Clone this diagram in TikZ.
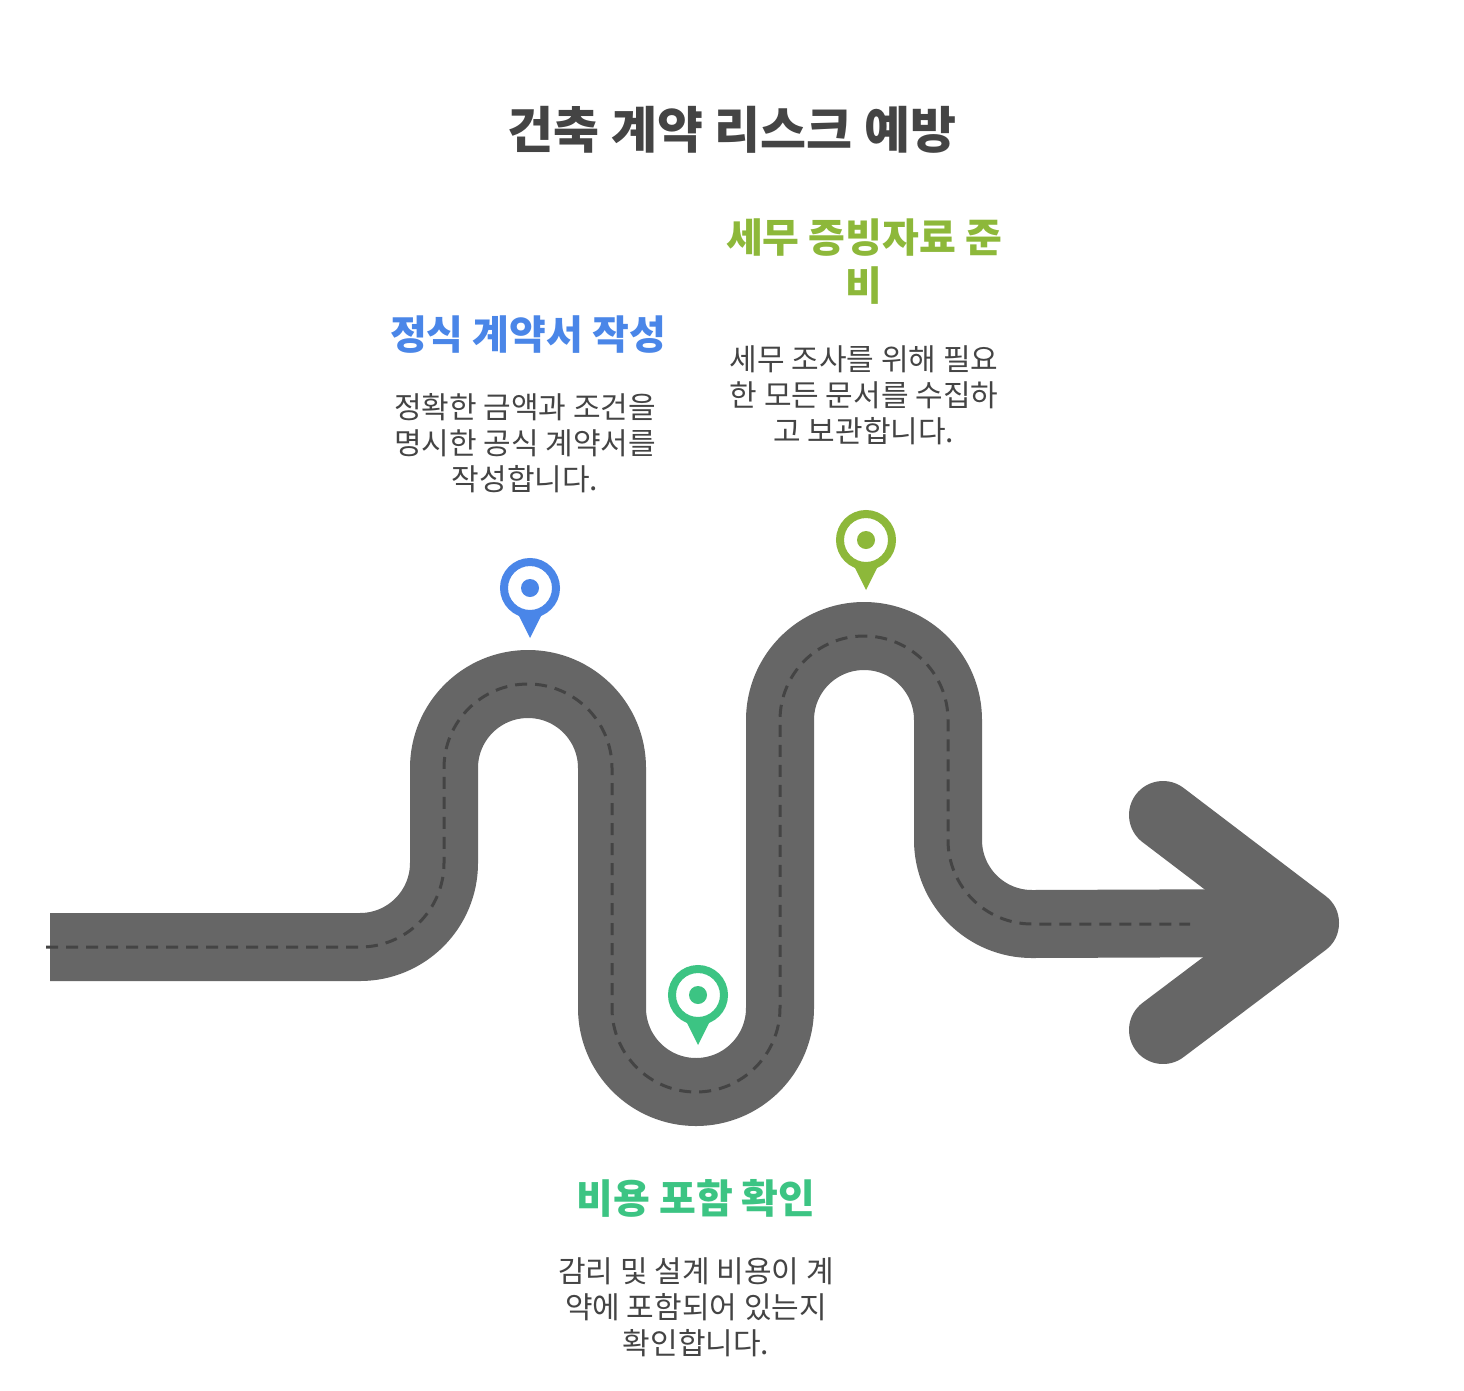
\documentclass[tikz,border=0pt]{standalone}
\usepackage{fontspec}
\setmainfont{Noto Sans CJK KR}
\definecolor{road}{HTML}{666666}
\definecolor{dashc}{HTML}{444444}
\definecolor{cblue}{HTML}{4A86E8}
\definecolor{cgreen}{HTML}{3CC483}
\definecolor{clime}{HTML}{8DB83A}
\definecolor{txt}{HTML}{444444}
\tikzset{
 heading/.style={font=\fontsize{40}{48}\selectfont\bfseries,align=center},
 body/.style={font=\fontsize{30}{36}\selectfont,text=txt,align=center},
}
\newcommand{\mypin}[3]{%
 \fill[#1] (#2,#3+50) -- (#2-14,#3+22) -- (#2+14,#3+22) -- cycle;
 \draw[#1,line width=8pt] (#2,#3) circle (26);
 \fill[#1] (#2,#3) circle (9);
}
\newcommand{\roadpath}{(360,947) arc[start angle=90,end angle=0,radius=84] -- (444,768)
 arc[start angle=180,end angle=360,radius=84] -- (612,1008) arc[start angle=180,end angle=0,radius=84]
 -- (780,720) arc[start angle=180,end angle=360,radius=84] -- (948,840) arc[start angle=180,end angle=90,radius=84]}
\begin{document}
\begin{tikzpicture}[x=1pt,y=-1pt]
\useasboundingbox (0,0) rectangle (1464,1390);
\fill[white] (0,0) rectangle (1464,1390);
\coordinate (s) at (50,947);
\coordinate (e) at (1280,923);
\draw[road,line width=68pt] (s) -- \roadpath -- (e);
\draw[road,line width=68pt,line cap=round,line join=round] (1163,815) -- (1305,923) -- (1163,1030);
\draw[dashc,line width=3pt,dash pattern=on 12pt off 8pt] (46,947) -- \roadpath -- (1190,924);
\mypin{cblue}{530}{588}
\mypin{cgreen}{698}{995}
\mypin{clime}{866}{540}
\node[font=\fontsize{50}{60}\selectfont\bfseries,text=txt] (title) at (732,130) {건축 계약 리스크 예방};
\node[heading,text=cblue] (h1) at (528,335) {정식 계약서 작성};
\node[body] (b1) at (525,443) {정확한 금액과 조건을\\명시한 공식 계약서를\\작성합니다.};
\node[heading,text=clime] (h2) at (864,262) {세무 증빙자료 준\\비};
\node[body] (b2) at (864,395) {세무 조사를 위해 필요\\한 모든 문서를 수집하\\고 보관합니다.};
\node[heading,text=cgreen] (h3) at (696,1198) {비용 포함 확인};
\node[body] (b3) at (696,1307) {감리 및 설계 비용이 계\\약에 포함되어 있는지\\확인합니다.};
\end{tikzpicture}
\end{document}
